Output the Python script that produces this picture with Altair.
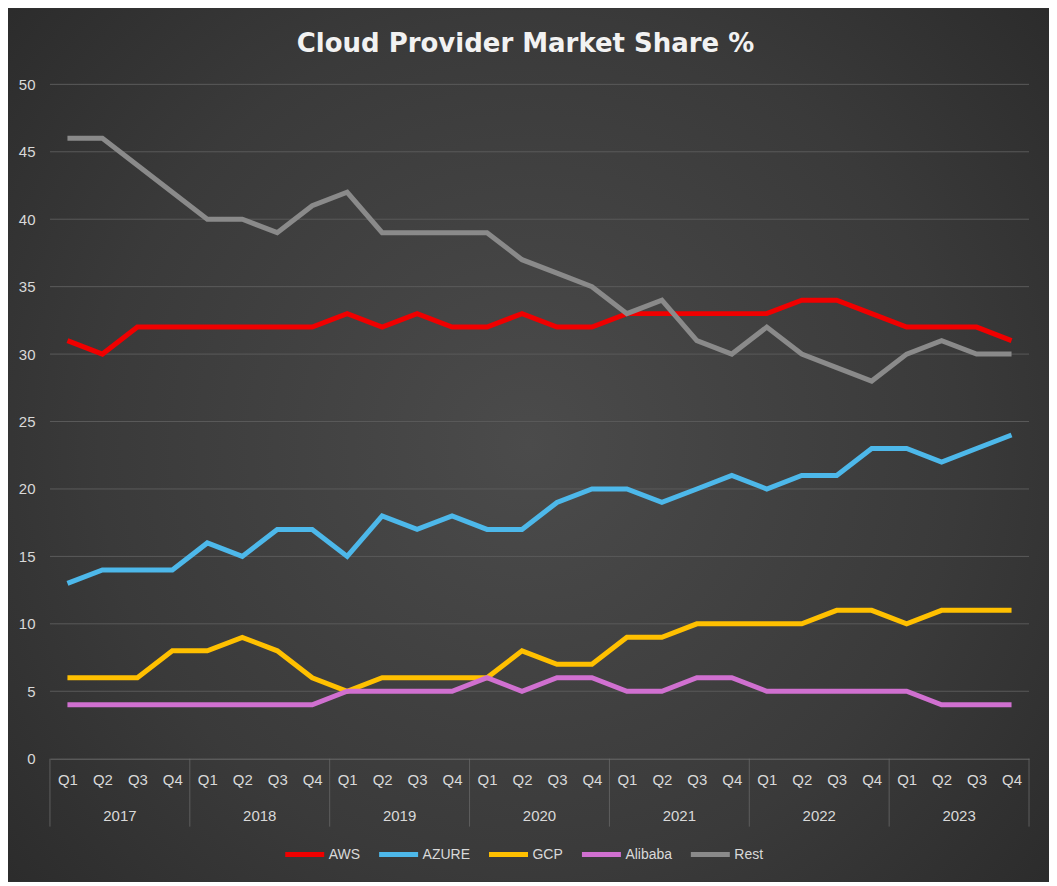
import altair as alt
import pandas as pd

title_text = "Cloud Provider Market Share %"
years = ["2017", "2018", "2019", "2020", "2021", "2022", "2023"]
quarters = ["Q1", "Q2", "Q3", "Q4"]
series = ["AWS", "AZURE", "GCP", "Alibaba", "Rest"]
colors = ["#f00000", "#4db8ea", "#ffc000", "#d070d0", "#8a8a8a"]
y_ticks = [0, 5, 10, 15, 20, 25, 30, 35, 40, 45, 50]

aws = [31, 30, 32, 32, 32, 32, 32, 32, 33, 32, 33, 32, 32, 33, 32, 32, 33, 33, 33, 33, 33, 34, 34, 33, 32, 32, 32, 31]
azure = [13, 14, 14, 14, 16, 15, 17, 17, 15, 18, 17, 18, 17, 17, 19, 20, 20, 19, 20, 21, 20, 21, 21, 23, 23, 22, 23, 24]
gcp = [6, 6, 6, 8, 8, 9, 8, 6, 5, 6, 6, 6, 6, 8, 7, 7, 9, 9, 10, 10, 10, 10, 11, 11, 10, 11, 11, 11]
alibaba = [4, 4, 4, 4, 4, 4, 4, 4, 5, 5, 5, 5, 6, 5, 6, 6, 5, 5, 6, 6, 5, 5, 5, 5, 5, 4, 4, 4]
rest = [46, 46, 44, 42, 40, 40, 39, 41, 42, 39, 39, 39, 39, 37, 36, 35, 33, 34, 31, 30, 32, 30, 29, 28, 30, 31, 30, 30]

values = {"AWS": aws, "AZURE": azure, "GCP": gcp, "Alibaba": alibaba, "Rest": rest}

rows = []
for s in series:
    for i, v in enumerate(values[s]):
        rows.append({"series": s, "idx": i, "value": v})
df = pd.DataFrame(rows)

nq = len(years) * len(quarters)
year_df = pd.DataFrame({"year": years, "pos": [i * 4 + 1.5 for i in range(len(years))]})
sep_df = pd.DataFrame({"pos": [i * 4 - 0.5 for i in range(len(years) + 1)]})
grid_df = pd.DataFrame({"v": y_ticks[1:]})
title_df = pd.DataFrame({"t": [title_text]})

W, H = 980, 675
PL, PT, PR, PB = 42, 76, 20, 123

xscale = alt.Scale(domain=[-0.5, nq - 0.5], nice=False, zero=False)
yscale = alt.Scale(domain=[0, 50], nice=False)
FONT = "Liberation Sans"
LBL = "#d9d9d9"

xaxis = alt.Axis(values=list(range(nq)), labelExpr="'Q' + (datum.value % 4 + 1)",
                 ticks=False, grid=False, domain=True, domainColor="#6b6b6b",
                 labelColor=LBL, labelFont=FONT, labelFontSize=15, labelPadding=14,
                 title=None, labelFlush=False, labelOverlap=False, labelSeparation=0,
                 zindex=1)
yaxis = alt.Axis(values=y_ticks, ticks=False, domain=False, grid=False,
                 labelColor=LBL, labelFont=FONT, labelFontSize=15, labelPadding=15,
                 title=None, zindex=1)

bg = alt.Chart(title_df).mark_rect(
    fill=alt.RadialGradient(
        gradient="radial", x1=0.5, y1=0.5, r1=0.0, x2=0.5, y2=0.5, r2=0.75,
        stops=[alt.GradientStop(color="#4b4b4b", offset=0),
               alt.GradientStop(color="#3a3a3a", offset=0.55),
               alt.GradientStop(color="#262626", offset=1)],
    )
).encode(
    x=alt.value(-PL), x2=alt.value(W + PR), y=alt.value(-PT), y2=alt.value(H + PB)
)

grid = alt.Chart(grid_df).mark_rule(color="#5a5a5a", strokeWidth=1).encode(
    y=alt.Y("v:Q", scale=yscale, axis=yaxis),
    x=alt.value(0), x2=alt.value(W),
)

seps = alt.Chart(sep_df).mark_rule(color="#5e5e5e", strokeWidth=1).encode(
    x=alt.X("pos:Q", scale=xscale, axis=xaxis),
    y=alt.value(H), y2=alt.value(H + 68),
)

lines = alt.Chart(df).mark_line(strokeWidth=5, strokeJoin="miter").encode(
    x=alt.X("idx:Q", scale=xscale, axis=xaxis),
    y=alt.Y("value:Q", scale=yscale, axis=yaxis),
    color=alt.Color("series:N", scale=alt.Scale(domain=series, range=colors),
                    legend=alt.Legend(orient="none", legendX=233, legendY=749,
                                      direction="horizontal", title=None,
                                      symbolType="stroke", symbolSize=1521, symbolStrokeWidth=5,
                                      labelColor=LBL, labelFont=FONT, labelFontSize=14,
                                      labelOffset=2, columnPadding=8, zindex=1)),
    detail="series:N",
)

yr = alt.Chart(year_df).mark_text(color=LBL, font=FONT, fontSize=15, baseline="middle").encode(
    x=alt.X("pos:Q", scale=xscale, axis=xaxis),
    y=alt.value(H + 57),
    text="year:N",
)

ttl = alt.Chart(title_df).mark_text(color="#f2f2f2", font="DejaVu Sans", fontSize=26,
                                     fontWeight="bold", baseline="alphabetic", align="center").encode(
    x=alt.value(W / 2 - 14), y=alt.value(-32), text="t:N"
)

chart = alt.layer(bg, grid, seps, lines, yr, ttl).properties(
    width=W, height=H,
    padding={"left": PL, "top": PT, "right": PR, "bottom": PB},
    autosize=alt.AutoSizeParams(type="none"),
    background="#333333",
).configure_view(stroke=None)

chart.save("out.html", embed_options={"renderer": "svg", "actions": False})
